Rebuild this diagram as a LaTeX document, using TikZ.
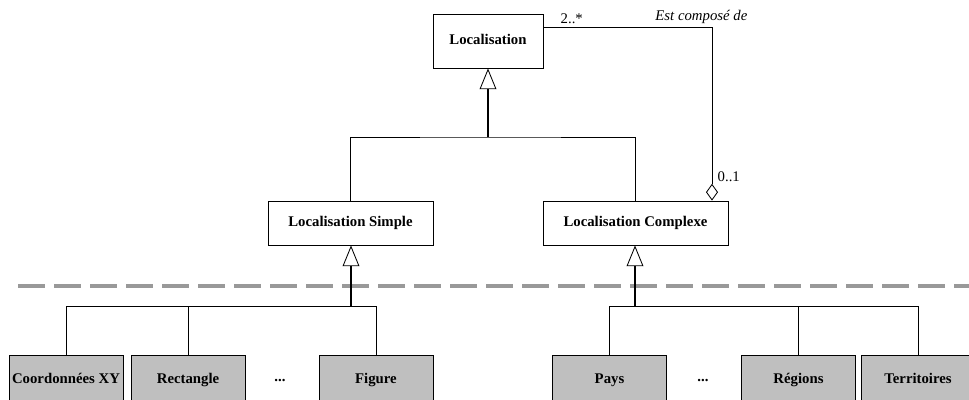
\documentclass[tikz,border=0pt]{standalone}
\usepackage{fontspec}
\setmainfont{Liberation Serif}
\usetikzlibrary{arrows.meta}

\begin{document}
\begin{tikzpicture}[
      x=0.025cm,y=-0.025cm,
      font=\fontsize{10.5}{12}\selectfont,
      class box/.style ={draw,line width=0.6pt,fill=#1,inner sep=0pt,text height=1.6ex,text depth=0.45ex,font=\fontsize{10.5}{12}\selectfont\bfseries},
      class box/.default=white,
      sub box/.style ={class box=gray!50,minimum width=2.85cm,minimum height=1.25cm},
      link/.style ={line width=0.6pt},
      gen/.style ={line width=1.4pt,-{Triangle[open,length=5.2mm,width=4.2mm,line width=0.6pt]}},
      split line/.style ={gray!80,line width=2.8pt,dash pattern=on 0.675cm off 0.225cm}
      ]
    \useasboundingbox (0,0) rectangle (969,400);
    % upper classes
    \node[class box,minimum width=2.75cm,minimum height=1.35cm] (loc) at (488,41) {Localisation};
    \node[class box,minimum width=4.125cm,minimum height=1.1cm] (locs) at (350.5,223) {Localisation Simple};
    \node[class box,minimum width=4.625cm,minimum height=1.1cm] (locc) at (635.5,223) {Localisation Complexe};
    \coordinate (top) at (488,137);
    \draw[gen] (top) -- (loc.south);
    \draw[link] (locs.north) |- (top) -| (locc.north);
    % composition
    \draw[link,-{Diamond[open,length=4.2mm,width=3mm,line width=0.6pt]}] (loc.north east |- 0,27) -| (712,0 |- locc.north);
    \node[anchor=south west,inner sep=1pt] (card1) at (559,25) {2..*};
    \node[anchor=south east,inner sep=1pt,font=\fontsize{10.5}{12}\selectfont\itshape] (role) at (749,25) {Est compos\'e de};
    \node[anchor=west,inner sep=1pt] (card2) at (716,177) {0..1};
    \draw[split line] (18,286) -- (969,286);
    % simple side
    \node[sub box] (xy) at (66,380) {Coordonn\'ees XY};
    \node[font=\fontsize{10.5}{12}\selectfont\bfseries] (dots1) at (280,381) {...};
    \node[sub box] (rect) at (188,380) {Rectangle};
    \node[sub box] (fig) at (376,380) {Figure};
    \coordinate (left) at (351,306);
    \draw[gen] (left) -- (left |- locs.south);
    \draw[link] (xy.north) |- (fig.north |- left) -- (fig.north);
    \draw[link] (rect.north) -- (rect.north |- left);
    % complex side
    \node[sub box] (pays) at (609.5,380) {Pays};
    \node[font=\fontsize{10.5}{12}\selectfont\bfseries] (dots2) at (703,381) {...};
    \node[sub box] (reg) at (798.5,380) {R\'egions};
    \node[sub box] (terr) at (918,380) {Territoires};
    \coordinate (right) at (635,306);
    \draw[gen] (right) -- (right |- locc.south);
    \draw[link] (pays.north) |- (terr.north |- right) -- (terr.north);
    \draw[link] (reg.north) -- (reg.north |- right);
\end{tikzpicture}
\end{document}
